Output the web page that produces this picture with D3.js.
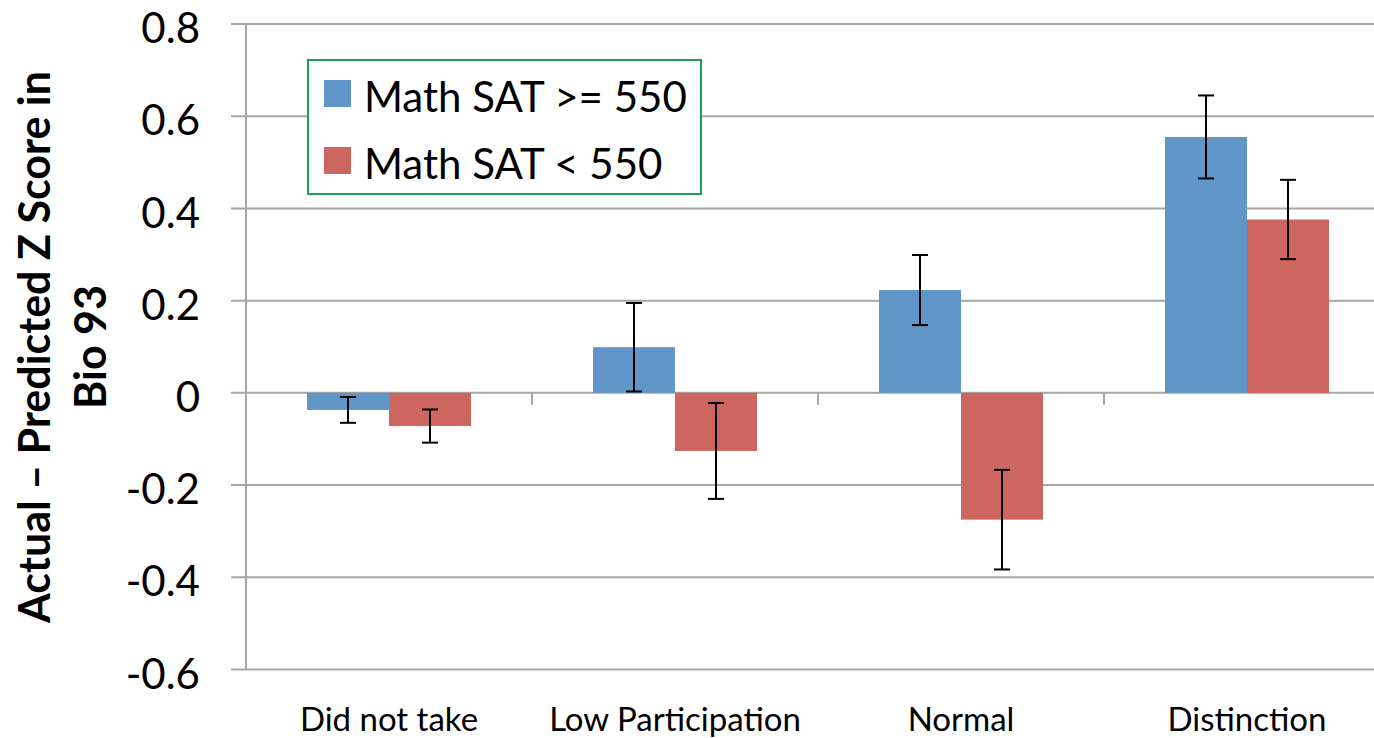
<!DOCTYPE html>
<html>
<head>
<meta charset="utf-8">
<script src="https://cdn.jsdelivr.net/npm/d3@7"></script>
<style>
  body { margin: 0; background: #fff; }
  text { font-family: Lato, "Open Sans", sans-serif; fill: #000; }
</style>
</head>
<body>
<div id="chart"></div>
<script>
// chart data
const categories = ['Did not take', 'Low Participation', 'Normal', 'Distinction'];
const seriesNames = ['Math SAT >= 550', 'Math SAT < 550'];
const highSat = [-0.037, 0.099, 0.223, 0.555];
const highSatErr = [0.028, 0.096, 0.076, 0.09];
const lowSat = [-0.072, -0.126, -0.275, 0.376];
const lowSatErr = [0.036, 0.104, 0.108, 0.086];
const yTicks = [0.8, 0.6, 0.4, 0.2, 0, -0.2, -0.4, -0.6];

const width = 1374;
const height = 738;
const colors = ['#6196c9', '#cd665f'];
const gridColor = '#a6a6a6';

const svg = d3.select('#chart')
  .append('svg')
  .attr('width', width)
  .attr('height', height);

// scales
const y = d3.scaleLinear().domain([-0.6, 0.8]).range([669.5, 24]);
const x0 = d3.scaleBand()
  .domain(categories)
  .range([246, 1390])
  .paddingInner(0.4266)
  .paddingOuter(0.2133);
const x1 = d3.scaleBand()
  .domain(seriesNames)
  .range([0, x0.bandwidth()]);

const rows = categories.map((c, i) => ({
  cat: c,
  vals: [
    { s: seriesNames[0], v: highSat[i], e: highSatErr[i], color: colors[0] },
    { s: seriesNames[1], v: lowSat[i], e: lowSatErr[i], color: colors[1] }
  ]
}));

// gridlines
svg.append('g')
  .selectAll('line')
  .data(yTicks)
  .enter()
  .append('line')
  .attr('x1', 231)
  .attr('x2', width)
  .attr('y1', d => y(d))
  .attr('y2', d => y(d))
  .attr('stroke', gridColor)
  .attr('stroke-width', 2);

// y axis line
svg.append('line')
  .attr('x1', 246).attr('x2', 246)
  .attr('y1', y(0.8)).attr('y2', y(-0.6))
  .attr('stroke', gridColor)
  .attr('stroke-width', 2);

// y tick labels
svg.append('g')
  .selectAll('text')
  .data(yTicks)
  .enter()
  .append('text')
  .attr('x', 200)
  .attr('y', d => y(d) + 4)
  .attr('dy', '0.36em')
  .attr('text-anchor', 'end')
  .style('font-size', '42px')
  .text(d => d === 0 ? '0' : d.toFixed(1));

// category ticks on the zero line
const step = x0.step();
svg.append('g')
  .selectAll('line')
  .data(categories.slice(1))
  .enter()
  .append('line')
  .attr('x1', d => x0(d) - step * x0.paddingInner() / 2)
  .attr('x2', d => x0(d) - step * x0.paddingInner() / 2)
  .attr('y1', y(0))
  .attr('y2', y(0) + 12)
  .attr('stroke', gridColor)
  .attr('stroke-width', 2);

// bars
const groups = svg.append('g')
  .selectAll('g')
  .data(rows)
  .enter()
  .append('g')
  .attr('transform', d => `translate(${x0(d.cat)},0)`);

groups.selectAll('rect')
  .data(d => d.vals)
  .enter()
  .append('rect')
  .attr('x', d => x1(d.s))
  .attr('width', x1.bandwidth())
  .attr('y', d => y(Math.max(0, d.v)))
  .attr('height', d => Math.abs(y(d.v) - y(0)))
  .attr('fill', d => d.color);

// error bars
const err = groups.selectAll('g.err')
  .data(d => d.vals)
  .enter()
  .append('g')
  .attr('class', 'err')
  .attr('transform', d => `translate(${x1(d.s) + x1.bandwidth() / 2},0)`)
  .attr('stroke', '#000')
  .attr('stroke-width', 2);

err.append('line')
  .attr('y1', d => y(d.v + d.e))
  .attr('y2', d => y(d.v - d.e));
err.append('line')
  .attr('x1', -8).attr('x2', 8)
  .attr('y1', d => y(d.v + d.e))
  .attr('y2', d => y(d.v + d.e));
err.append('line')
  .attr('x1', -8).attr('x2', 8)
  .attr('y1', d => y(d.v - d.e))
  .attr('y2', d => y(d.v - d.e));

// x labels
svg.append('g')
  .selectAll('text')
  .data(categories)
  .enter()
  .append('text')
  .attr('x', d => x0(d) + x0.bandwidth() / 2)
  .attr('y', 731)
  .attr('text-anchor', 'middle')
  .style('font-size', '33px')
  .text(d => d);

// y title
const title = svg.append('text')
  .attr('transform', 'rotate(-90)')
  .attr('text-anchor', 'middle')
  .style('font-size', '43px')
  .style('font-weight', 'bold');
title.append('tspan')
  .attr('x', -347).attr('y', 50)
  .text('Actual \u2013 Predicted Z Score in');
title.append('tspan')
  .attr('x', -347).attr('y', 106)
  .text('Bio 93');

// legend
const legend = svg.append('g');
legend.append('rect')
  .attr('x', 308).attr('y', 60)
  .attr('width', 393).attr('height', 134)
  .attr('fill', '#fff')
  .attr('stroke', '#1f9e57')
  .attr('stroke-width', 2);

const items = legend.selectAll('g.item')
  .data(seriesNames)
  .enter()
  .append('g')
  .attr('class', 'item')
  .attr('transform', (d, i) => `translate(324,${80 + i * 67})`);
items.append('rect')
  .attr('width', 27).attr('height', 27)
  .attr('fill', (d, i) => colors[i]);
items.append('text')
  .attr('x', 40).attr('y', 32)
  .style('font-size', '42px')
  .text(d => d);
</script>
</body>
</html>
